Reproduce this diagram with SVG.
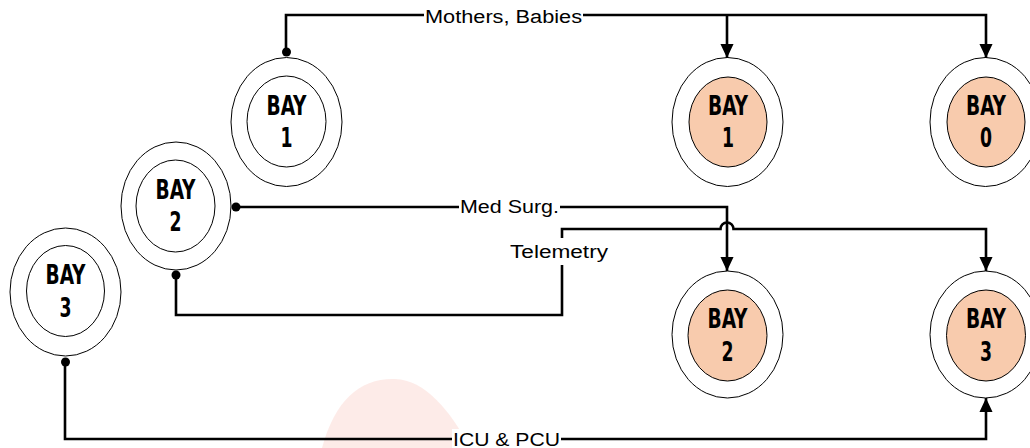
<svg xmlns="http://www.w3.org/2000/svg" width="1030" height="448" viewBox="0 0 1030 448">
<defs>
<marker id="arr" markerUnits="userSpaceOnUse" markerWidth="14" markerHeight="16" refX="15" refY="7" orient="auto" viewBox="0 0 15 14">
<path d="M0,0 L15,7 L0,14 Z" fill="#000"/>
</marker>
<style>
.outer{fill:#fff;stroke:#000;stroke-width:1}
.inner{fill:#fff;stroke:#000;stroke-width:1}
.innerf{fill:#F8CBAD;stroke:#000;stroke-width:1}
.bay{font-family:"DejaVu Sans Condensed","Liberation Sans",sans-serif;font-weight:bold;font-size:26px;text-anchor:middle;fill:#000}
.conn{fill:none;stroke:#000;stroke-width:2.6}
.lbl{font-family:"Liberation Sans","DejaVu Sans",sans-serif;font-size:18px;fill:#000}
.bg{fill:#fff}
</style>
</defs>
<rect width="1030" height="448" fill="#fff"/>
<path d="M322,448 C335,400 360,378 395,379 C425,380 450,410 470,448 Z" fill="#fbd3cc" opacity="0.45"/>

<g id="bay1-left">
<ellipse class="outer" cx="286.5" cy="122" rx="55.5" ry="64.5"/>
<ellipse class="inner" cx="286.5" cy="121.5" rx="39.5" ry="45.5"/>
<text class="bay" x="286.5" y="114.5" textLength="40" lengthAdjust="spacingAndGlyphs">BAY</text>
<text class="bay" x="286.5" y="147" textLength="12" lengthAdjust="spacingAndGlyphs">1</text>
</g>
<g id="bay2-left">
<ellipse class="outer" cx="176" cy="206" rx="55" ry="64"/>
<ellipse class="inner" cx="175.5" cy="206" rx="39.5" ry="46"/>
<text class="bay" x="175.5" y="198.5" textLength="40" lengthAdjust="spacingAndGlyphs">BAY</text>
<text class="bay" x="175.5" y="231" textLength="12" lengthAdjust="spacingAndGlyphs">2</text>
</g>
<g id="bay3-left">
<ellipse class="outer" cx="65.5" cy="292" rx="55.5" ry="64"/>
<ellipse class="inner" cx="65.5" cy="291" rx="39" ry="45.5"/>
<text class="bay" x="65.5" y="283.5" textLength="40" lengthAdjust="spacingAndGlyphs">BAY</text>
<text class="bay" x="65.5" y="317" textLength="12" lengthAdjust="spacingAndGlyphs">3</text>
</g>
<g id="bay1-right">
<ellipse class="outer" cx="727.5" cy="122" rx="55.5" ry="64.5"/>
<ellipse class="innerf" cx="728" cy="122" rx="39" ry="45"/>
<text class="bay" x="728" y="114.5" textLength="40" lengthAdjust="spacingAndGlyphs">BAY</text>
<text class="bay" x="728" y="147" textLength="12" lengthAdjust="spacingAndGlyphs">1</text>
</g>
<g id="bay0-right">
<ellipse class="outer" cx="985.5" cy="122" rx="55.5" ry="64.5"/>
<ellipse class="innerf" cx="986" cy="122" rx="39" ry="45"/>
<text class="bay" x="986" y="114.5" textLength="40" lengthAdjust="spacingAndGlyphs">BAY</text>
<text class="bay" x="986" y="147" textLength="12" lengthAdjust="spacingAndGlyphs">0</text>
</g>
<g id="bay2-right">
<ellipse class="outer" cx="727.5" cy="334.5" rx="55.5" ry="63.5"/>
<ellipse class="innerf" cx="727.5" cy="335.5" rx="39.5" ry="45.5"/>
<text class="bay" x="727.5" y="327.5" textLength="40" lengthAdjust="spacingAndGlyphs">BAY</text>
<text class="bay" x="727.5" y="361" textLength="12" lengthAdjust="spacingAndGlyphs">2</text>
</g>
<g id="bay3-right">
<ellipse class="outer" cx="985.5" cy="334.5" rx="55.5" ry="63.5"/>
<ellipse class="innerf" cx="986" cy="335.5" rx="39.5" ry="45.5"/>
<text class="bay" x="986" y="327.5" textLength="40" lengthAdjust="spacingAndGlyphs">BAY</text>
<text class="bay" x="986" y="361" textLength="12" lengthAdjust="spacingAndGlyphs">3</text>
</g>

<g id="connectors">
<path class="conn" d="M286,52 V15 H986 V58" marker-end="url(#arr)"/>
<path class="conn" d="M727,15 V58" marker-end="url(#arr)"/>
<circle cx="286.5" cy="52" r="4.5" fill="#000"/>
<rect class="bg" x="424" y="4" width="159" height="24"/>
<text class="lbl" x="425" y="23" textLength="157" lengthAdjust="spacingAndGlyphs">Mothers, Babies</text>

<path class="conn" d="M236,207 H727 V271" marker-end="url(#arr)"/>
<circle cx="236" cy="207" r="4.5" fill="#000"/>
<rect class="bg" x="459" y="196" width="101" height="22"/>
<text class="lbl" x="460" y="213" textLength="99" lengthAdjust="spacingAndGlyphs">Med Surg.</text>

<path class="conn" d="M176,275 V315 H562 V229 H720.5 A6.5,6.5 0 0 1 733.5,229 H986 V271" marker-end="url(#arr)"/>
<circle cx="176" cy="275" r="4.5" fill="#000"/>
<rect class="bg" x="508" y="238" width="102" height="27"/>
<text class="lbl" x="510" y="258" textLength="98" lengthAdjust="spacingAndGlyphs">Telemetry</text>

<path class="conn" d="M65,362 V439 H986 V398" marker-end="url(#arr)"/>
<circle cx="65.5" cy="362" r="4.5" fill="#000"/>
<rect class="bg" x="452" y="429" width="109" height="19"/>
<text class="lbl" x="453" y="446" textLength="107" lengthAdjust="spacingAndGlyphs">ICU &amp; PCU</text>
</g>
</svg>
